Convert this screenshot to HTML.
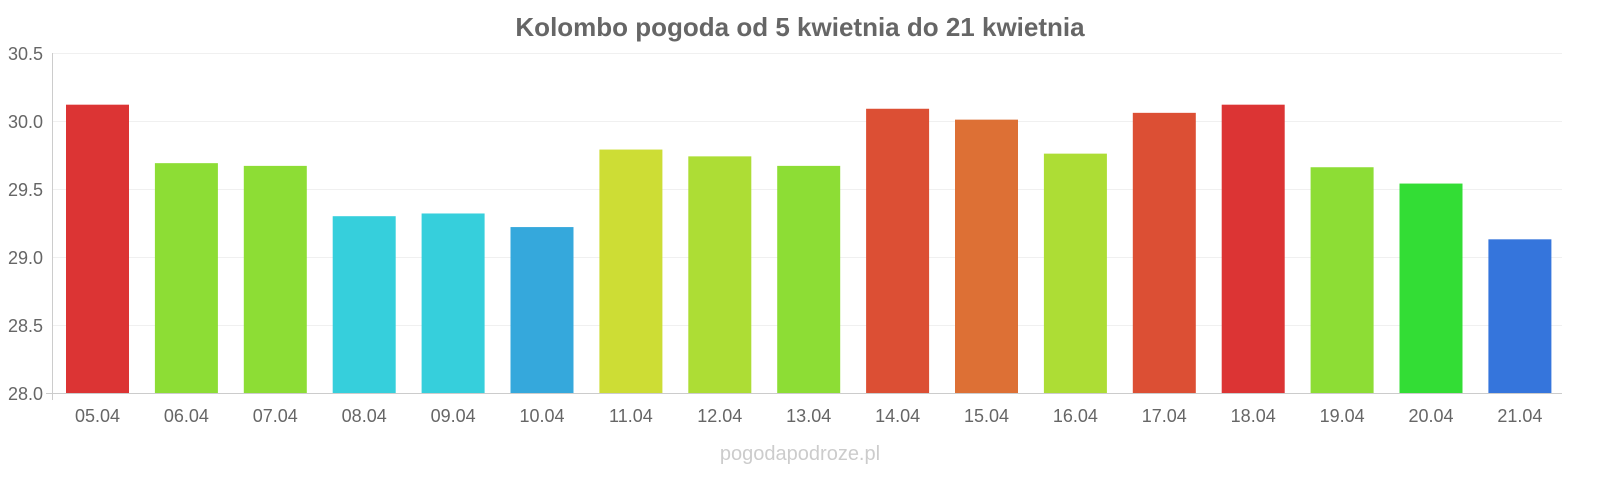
<!DOCTYPE html>
<html><head><meta charset="utf-8"><style>
html,body{margin:0;padding:0;background:#fff;}
svg{display:block;font-family:"Liberation Sans",sans-serif;}
</style></head><body>
<svg width="1600" height="480" viewBox="0 0 1600 480" xmlns="http://www.w3.org/2000/svg">
<text x="800" y="36" text-anchor="middle" font-size="26" font-weight="bold" fill="#666">Kolombo pogoda od 5 kwietnia do 21 kwietnia</text>
<g stroke="#f0f0f0" stroke-width="1">
<line x1="52" y1="53.5" x2="1562" y2="53.5"/>
<line x1="52" y1="121.5" x2="1562" y2="121.5"/>
<line x1="52" y1="189.5" x2="1562" y2="189.5"/>
<line x1="52" y1="257.5" x2="1562" y2="257.5"/>
<line x1="52" y1="325.5" x2="1562" y2="325.5"/>
</g>
<line x1="52.5" y1="53" x2="52.5" y2="400" stroke="#ccc"/>
<line x1="46" y1="393.5" x2="1562" y2="393.5" stroke="#ccc"/>
<g font-size="18" fill="#666" text-anchor="end">
<text x="43" y="60">30.5</text>
<text x="43" y="128">30.0</text>
<text x="43" y="196">29.5</text>
<text x="43" y="264">29.0</text>
<text x="43" y="332">28.5</text>
<text x="43" y="400">28.0</text>
</g>
<g id="bars"></g>
<g id="labels" font-size="18" fill="#666" text-anchor="middle"></g>
<text x="800" y="460" text-anchor="middle" font-size="20" fill="#ccc">pogodapodroze.pl</text>
<script>
var v=[30.12,29.69,29.67,29.30,29.32,29.22,29.79,29.74,29.67,30.09,30.01,29.76,30.06,30.12,29.66,29.54,29.13];
var c=["#dc3434","#8ddd35","#8ddd35","#36cfdc","#36cfdc","#35a8dc","#cddd35","#addd35","#8ddd35","#dc4f34","#dd7035","#addd35","#dc4f34","#dc3434","#8ddd35","#33dd35","#3575dc"];
var ns="http://www.w3.org/2000/svg",b=document.getElementById("bars"),l=document.getElementById("labels");
for(var i=0;i<17;i++){var cx=97.5+i*88.9,y=393-(v[i]-28)*136;
var r=document.createElementNS(ns,"rect");r.setAttribute("x",cx-31.5);r.setAttribute("y",y);r.setAttribute("width",63);r.setAttribute("height",393-y);r.setAttribute("fill",c[i]);b.appendChild(r);
var t=document.createElementNS(ns,"text");t.setAttribute("x",cx);t.setAttribute("y",422);t.textContent=String(5+i).padStart(2,"0")+".04";l.appendChild(t);}
</script>
</svg>
</body></html>
